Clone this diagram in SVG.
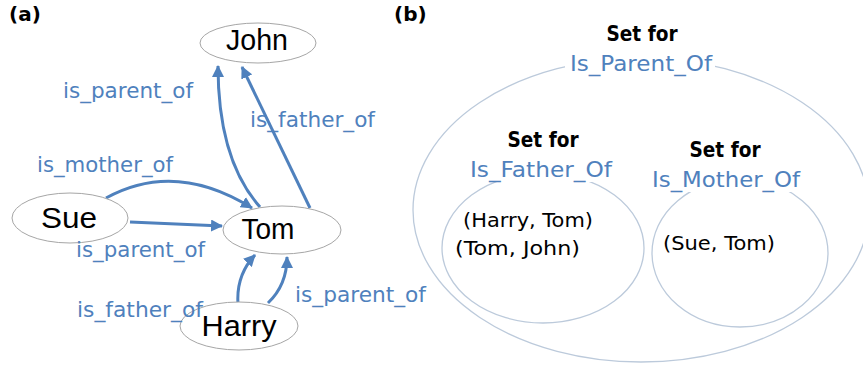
<svg xmlns="http://www.w3.org/2000/svg" width="863" height="370" viewBox="0 0 863 370">
<style>
.node{fill:#fff;stroke:#a6a6a6;stroke-width:1}
.set{fill:none;stroke:#bccadb;stroke-width:1.3}
.nt{font-family:"Liberation Sans",Arial,sans-serif;font-size:29px;fill:#000;text-anchor:middle}
.lb{font-family:"DejaVu Sans",sans-serif;font-size:21px;fill:#4f81bd}
.st{font-family:"DejaVu Sans",sans-serif;font-size:21px;font-weight:bold;fill:#000;text-anchor:middle}
.sb{font-family:"DejaVu Sans",sans-serif;font-size:22px;fill:#4f81bd;text-anchor:middle}
.pr{font-family:"DejaVu Sans",sans-serif;font-size:19px;fill:#000}
.pl{font-family:"DejaVu Sans",sans-serif;font-size:20px;font-weight:bold;fill:#000}
.e{fill:none;stroke:#4f81bd;stroke-width:3;marker-end:url(#ah)}
</style>
<defs>
<marker id="ah" markerUnits="userSpaceOnUse" markerWidth="14" markerHeight="12" refX="11" refY="6" orient="auto">
<path d="M0,0 L12,6 L0,12 Z" fill="#4f81bd"/>
</marker>
</defs>
<rect width="863" height="370" fill="#fff"/>
<text class="pl" x="9" y="21">(a)</text>
<text class="pl" x="394" y="21">(b)</text>

<g id="edges">
<path class="e" d="M260,207 Q218,160 218,66"/>
<path class="e" d="M310,208 L242,67"/>
<path class="e" d="M106,198 Q175,160 252,208"/>
<path class="e" d="M130,222 L222,226"/>
<path class="e" d="M238,304 Q236,275 255,255"/>
<path class="e" d="M268,303 Q287,285 287,257"/>
</g>

<g id="john"><ellipse class="node" cx="258" cy="43" rx="58" ry="20"/><text class="nt" x="257" y="50" textLength="62" lengthAdjust="spacingAndGlyphs">John</text></g>
<g id="sue"><ellipse class="node" cx="70" cy="218" rx="58" ry="25"/><text class="nt" x="69" y="228" textLength="56" lengthAdjust="spacingAndGlyphs">Sue</text></g>
<g id="tom"><ellipse class="node" cx="282" cy="230" rx="59" ry="24"/><text class="nt" x="268" y="239" textLength="53" lengthAdjust="spacingAndGlyphs">Tom</text></g>
<g id="harry"><ellipse class="node" cx="239" cy="326" rx="59" ry="24"/><text class="nt" x="239" y="336" textLength="75" lengthAdjust="spacingAndGlyphs">Harry</text></g>

<g id="labels">
<text class="lb" x="63" y="98" textLength="130" lengthAdjust="spacingAndGlyphs">is_parent_of</text>
<text class="lb" x="250" y="127" textLength="125" lengthAdjust="spacingAndGlyphs">is_father_of</text>
<text class="lb" x="37" y="172" textLength="136" lengthAdjust="spacingAndGlyphs">is_mother_of</text>
<text class="lb" x="76" y="257" textLength="129" lengthAdjust="spacingAndGlyphs">is_parent_of</text>
<text class="lb" x="77" y="317" textLength="126" lengthAdjust="spacingAndGlyphs">is_father_of</text>
<text class="lb" x="295" y="302" textLength="131" lengthAdjust="spacingAndGlyphs">is_parent_of</text>
</g>

<g id="set-parent">
<ellipse class="set" cx="641" cy="210" rx="228" ry="152"/>
<rect x="565" y="52" width="150" height="24" fill="#fff"/>
<text class="st" x="642" y="41" textLength="71" lengthAdjust="spacingAndGlyphs">Set for</text>
<text class="sb" x="641" y="71" textLength="142" lengthAdjust="spacingAndGlyphs">Is_Parent_Of</text>
</g>
<g id="set-father">
<ellipse class="set" cx="543" cy="248" rx="101" ry="75"/>
<rect x="468" y="158" width="148" height="24" fill="#fff"/>
<text class="st" x="543" y="147" textLength="71" lengthAdjust="spacingAndGlyphs">Set for</text>
<text class="sb" x="541" y="177" textLength="142" lengthAdjust="spacingAndGlyphs">Is_Father_Of</text>
<text class="pr" x="463" y="227" textLength="130" lengthAdjust="spacingAndGlyphs">(Harry, Tom)</text>
<text class="pr" x="455" y="255" textLength="125" lengthAdjust="spacingAndGlyphs">(Tom, John)</text>
</g>
<g id="set-mother">
<ellipse class="set" cx="740" cy="253" rx="88" ry="74"/>
<rect x="650" y="168" width="152" height="24" fill="#fff"/>
<text class="st" x="725" y="157" textLength="71" lengthAdjust="spacingAndGlyphs">Set for</text>
<text class="sb" x="726" y="187" textLength="148" lengthAdjust="spacingAndGlyphs">Is_Mother_Of</text>
<text class="pr" x="663" y="250" textLength="112" lengthAdjust="spacingAndGlyphs">(Sue, Tom)</text>
</g>
</svg>
